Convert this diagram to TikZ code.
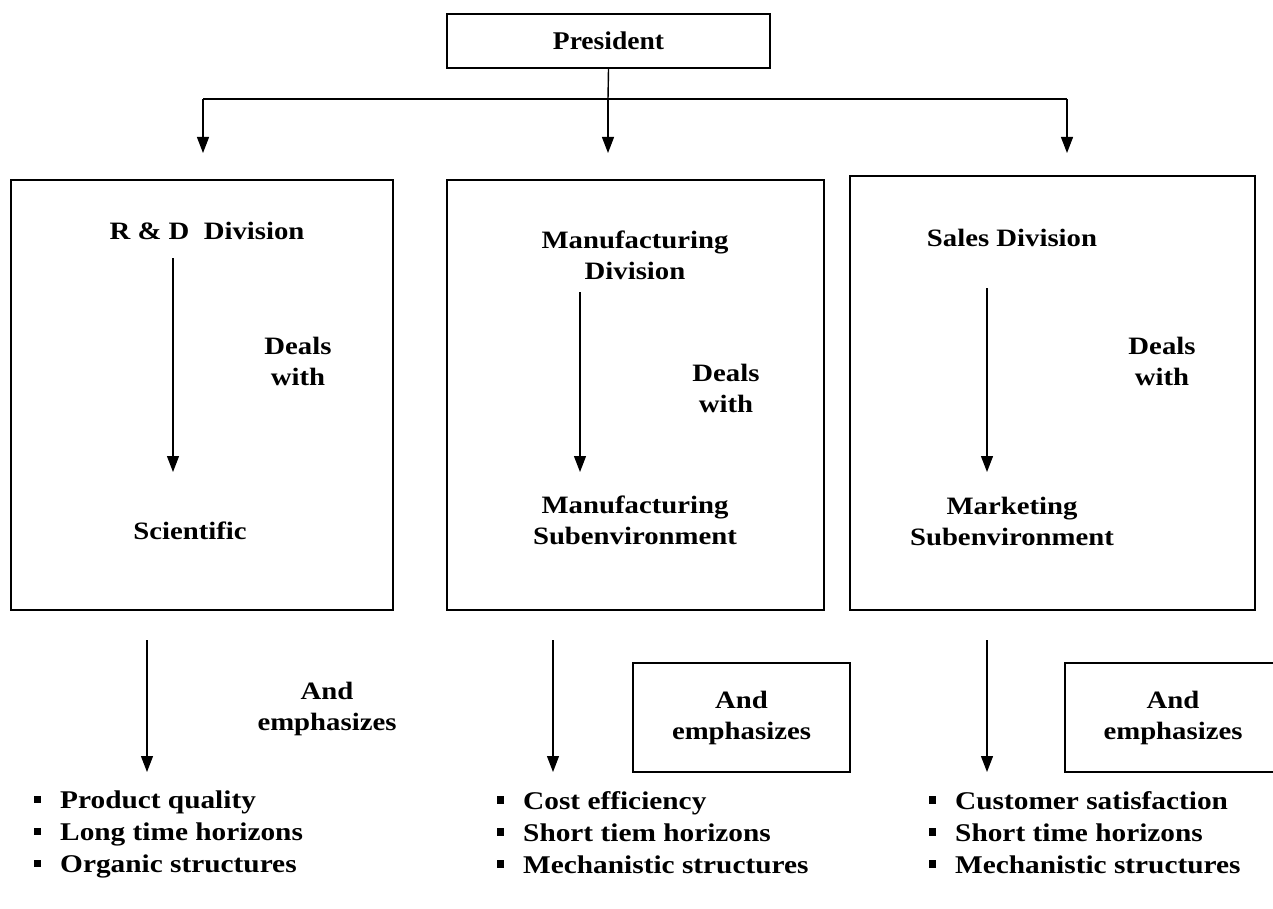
\documentclass[tikz,border=0pt]{standalone}
\usepackage{fontspec}
\setmainfont[FakeStretch=1.15]{Liberation Serif}
\newfontfamily\narrowserif[FakeStretch=1.08]{Liberation Serif}
\usetikzlibrary{arrows.meta}
\newcommand{\sqbullet}{\raisebox{0.22em}{\rule{7pt}{7.5pt}}}
\begin{document}
\begin{tikzpicture}[x=1pt,y=-1pt,
  every node/.style={font=\fontsize{25}{31}\selectfont\bfseries, inner sep=0pt},
  boxline/.style={draw, line width=1.4pt},
  flow/.style={line width=1.2pt, -{Triangle[width=12pt,length=16pt]}},
  txt/.style={align=center},
  items/.style={align=left, anchor=north west, font=\fontsize{25.5}{32}\selectfont\bfseries}]
\useasboundingbox (0,0) rectangle (1273,909);

% top of the hierarchy
\node[boxline, minimum width=323pt, minimum height=54pt, font=\narrowserif\fontsize{25.5}{31}\selectfont\bfseries] (pres) at (608.5,41) {President};
\coordinate (hub) at (608,99);
\coordinate (hl) at (203,99);
\coordinate (hr) at (1067,99);
\coordinate (al) at (203,153);
\coordinate (am) at (608,153);
\coordinate (ar) at (1067,153);
\draw[line width=1.4pt] (pres.south) -- (hub);
\draw[line width=1.4pt] (hl) -- (hr);
\draw[flow] (hl) -- (al);
\draw[flow] (hub) -- (am);
\draw[flow] (hr) -- (ar);

% division boxes
\node[boxline, minimum width=382pt, minimum height=430pt] (bl) at (202,395) {};
\node[boxline, minimum width=377pt, minimum height=430pt] (bm) at (635.5,395) {};
\node[boxline, minimum width=405pt, minimum height=434pt] (br) at (1052.5,393) {};

% R & D division
\node[txt] (rd) at (207,231) {R \& D\ \ Division};
\coordinate (rdA) at (173,258);
\coordinate (rdB) at (173,472);
\draw[flow] (rdA) -- (rdB);
\node[txt] (rdd) at (298,361) {Deals\\with};
\node[txt] (sci) at (190,531) {Scientific};

% manufacturing division
\node[txt] (mf) at (635,255) {Manufacturing\\Division};
\coordinate (mfA) at (580,292);
\coordinate (mfB) at (580,472);
\draw[flow] (mfA) -- (mfB);
\node[txt] (mfd) at (726,388) {Deals\\with};
\node[txt] (mfs) at (635,520) {Manufacturing\\Subenvironment};

% sales division
\node[txt] (sd) at (1012,238) {Sales Division};
\coordinate (sdA) at (987,288);
\coordinate (sdB) at (987,472);
\draw[flow] (sdA) -- (sdB);
\node[txt] (sdd) at (1162,361) {Deals\\with};
\node[txt] (mks) at (1012,521) {Marketing\\Subenvironment};

% emphasis arrows
\coordinate (eA1) at (147,640);
\coordinate (eB1) at (147,772);
\coordinate (eA2) at (553,640);
\coordinate (eB2) at (553,772);
\coordinate (eA3) at (987,640);
\coordinate (eB3) at (987,772);
\draw[flow] (eA1) -- (eB1);
\draw[flow] (eA2) -- (eB2);
\draw[flow] (eA3) -- (eB3);

\node[txt] (em1) at (327,709) {And\\emphasizes};
\node[boxline, minimum width=217pt, minimum height=109pt, txt] (em2) at (741.5,717.5) {And\\emphasizes};
\node[boxline, minimum width=216pt, minimum height=109pt, txt] (em3) at (1173,717.5) {And\\emphasizes};

% emphasis lists
\node[items] (l1) at (34,791) {\sqbullet\hspace{19pt}Product quality\\\sqbullet\hspace{19pt}Long time horizons\\\sqbullet\hspace{19pt}Organic structures};
\node[items] (l2) at (497,791) {\sqbullet\hspace{19pt}Cost efficiency\\\sqbullet\hspace{19pt}Short tiem horizons\\\sqbullet\hspace{19pt}Mechanistic structures};
\node[items] (l3) at (929,791) {\sqbullet\hspace{19pt}Customer satisfaction\\\sqbullet\hspace{19pt}Short time horizons\\\sqbullet\hspace{19pt}Mechanistic structures};
\end{tikzpicture}
\end{document}
